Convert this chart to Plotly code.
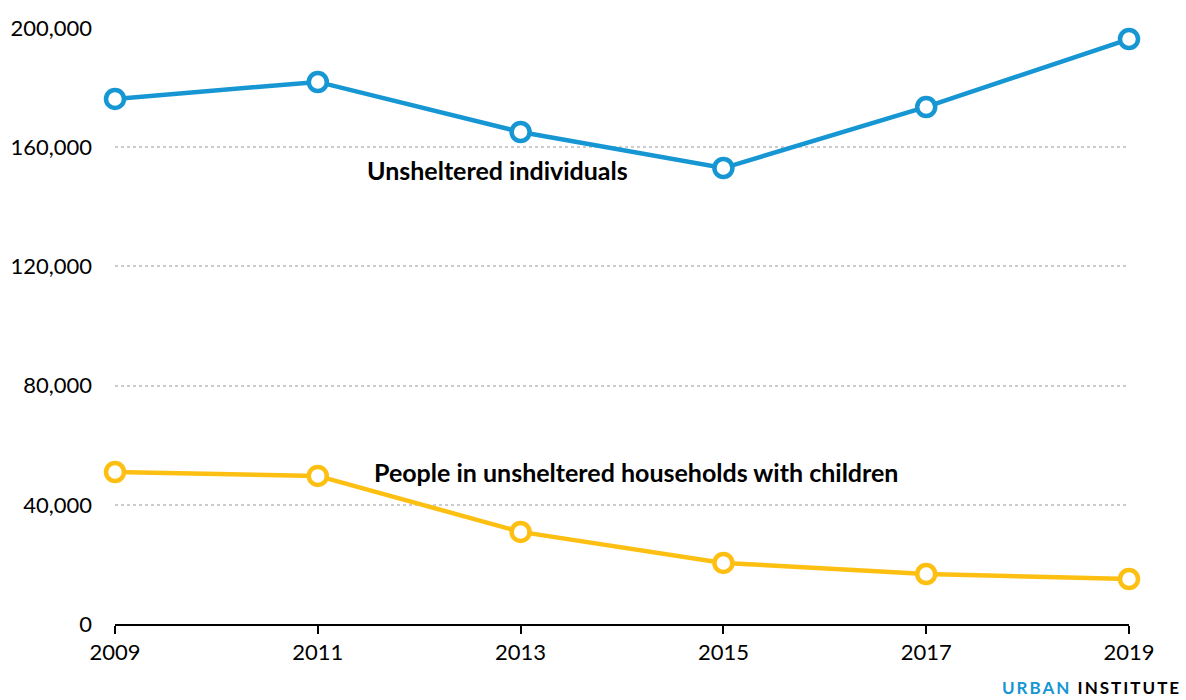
import plotly.graph_objects as go

years = [2009, 2011, 2013, 2015, 2017, 2019]
individuals = [176200, 181900, 165100, 153000, 173500, 196300]
families = [51000, 49700, 30900, 20500, 16800, 15100]
y_ticks = [0, 40000, 80000, 120000, 160000, 200000]
y_tick_text = ["0", "40,000", "80,000", "120,000", "160,000", "200,000"]

BLUE = "#1696d2"
YELLOW = "#fdbf11"
FONT = "Lato, 'Open Sans', sans-serif"

fig = go.Figure()
for vals, col in [(individuals, BLUE), (families, YELLOW)]:
    fig.add_trace(go.Scatter(
        x=years, y=vals, mode="lines+markers",
        line=dict(color=col, width=4.5),
        marker=dict(size=18, color="white", line=dict(color=col, width=4.5)),
        cliponaxis=False, hoverinfo="skip", showlegend=False,
    ))

fig.add_annotation(x=2011.47, y=152300, text="<b>Unsheltered individuals</b>",
                   showarrow=False, xanchor="left", yanchor="middle",
                   font=dict(family=FONT, size=25, color="#000000"))
fig.add_annotation(x=2011.53, y=51000, text="<b>People in unsheltered households with children</b>",
                   showarrow=False, xanchor="left", yanchor="middle",
                   font=dict(family=FONT, size=25, color="#000000"))
fig.add_annotation(xref="paper", yref="paper", x=1.0 + 54/1014, y=-0.107,
                   text="<b><span style='color:#1696d2;letter-spacing:2px'>URBAN</span>"
                        "<span style='letter-spacing:2px'> INSTITUTE</span></b>",
                   showarrow=False, xanchor="right", yanchor="middle",
                   font=dict(family=FONT, size=17, color="#000000"))

fig.update_layout(
    width=1186, height=700,
    margin=dict(l=115, r=57, t=28, b=76, autoexpand=False),
    paper_bgcolor="white", plot_bgcolor="white",
    font=dict(family=FONT, size=22, color="#000000"),
    xaxis=dict(range=[2009, 2019], tickvals=years, showgrid=False, zeroline=False,
               showline=True, linecolor="#000000", linewidth=2,
               ticks="outside", ticklen=8, tickwidth=2, tickcolor="#000000",
               tickfont=dict(size=22), automargin=False),
    yaxis=dict(range=[0, 200000], tickvals=y_ticks, ticktext=y_tick_text,
               showgrid=True, gridcolor="#cccccc", griddash="dot", gridwidth=2,
               zeroline=False, showline=False, ticks="", ticklabelstandoff=22,
               tickfont=dict(size=22), automargin=False),
)

fig.write_html("out.html")
